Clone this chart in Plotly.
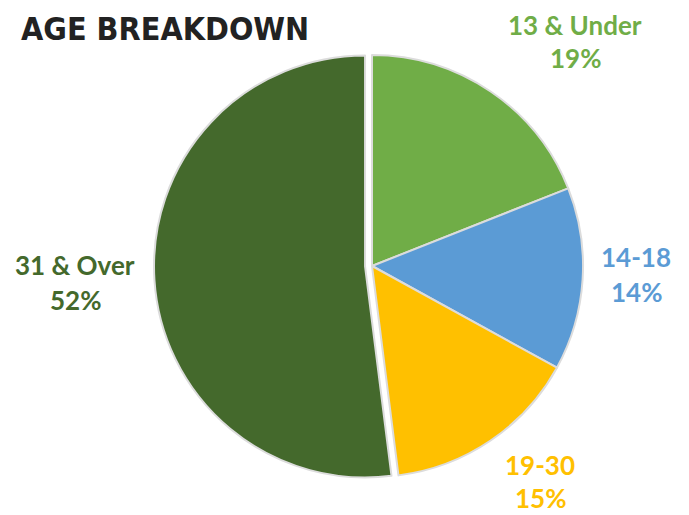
import plotly.graph_objects as go

# age groups and share of respondents (%)
groups = ["13 & Under", "14-18", "19-30", "31 & Over"]
shares = [19, 14, 15, 52]
colors = ["#70AD47", "#5B9BD5", "#FFC000", "#44692C"]
pulls = [0, 0, 0, 0.033]

W, H = 689, 515
OFF = 8  # page body margin

fig = go.Figure()
fig.add_trace(go.Pie(
    labels=groups, values=shares, sort=False, direction="clockwise",
    rotation=0, pull=pulls, textinfo="none", hoverinfo="label+percent",
    marker=dict(colors=colors, line=dict(color="#dcdcdc", width=2)),
    domain=dict(x=[146 / W, 582 / W], y=[39 / H, 475 / H]),
    showlegend=False,
))

# label placement in page pixels: centre x, centre y of name line, centre y of % line
label_pos = [(575, 25, 58), (636, 257, 292), (540, 465, 498), (75, 265, 300)]
for g, s, c, (px, y1, y2) in zip(groups, shares, colors, label_pos):
    for txt, py in ((g, y1), (f"{s}%", y2)):
        fig.add_annotation(
            x=(px - OFF) / W, y=1 - (py - OFF) / H, xref="paper", yref="paper",
            xanchor="center", yanchor="middle", showarrow=False,
            text=f"<b>{txt}</b>",
            font=dict(family="Lato", size=26, color=c),
        )

fig.add_annotation(
    x=11 / W, y=1.0, xref="paper", yref="paper", xanchor="left", yanchor="top",
    showarrow=False, text="<b>AGE BREAKDOWN</b>",
    font=dict(family="DejaVu Sans Condensed", size=32, color="#222222"),
)

fig.update_layout(
    width=W, height=H, margin=dict(l=0, r=0, t=0, b=0),
    paper_bgcolor="white", plot_bgcolor="white",
)

fig.write_html("out.html")
